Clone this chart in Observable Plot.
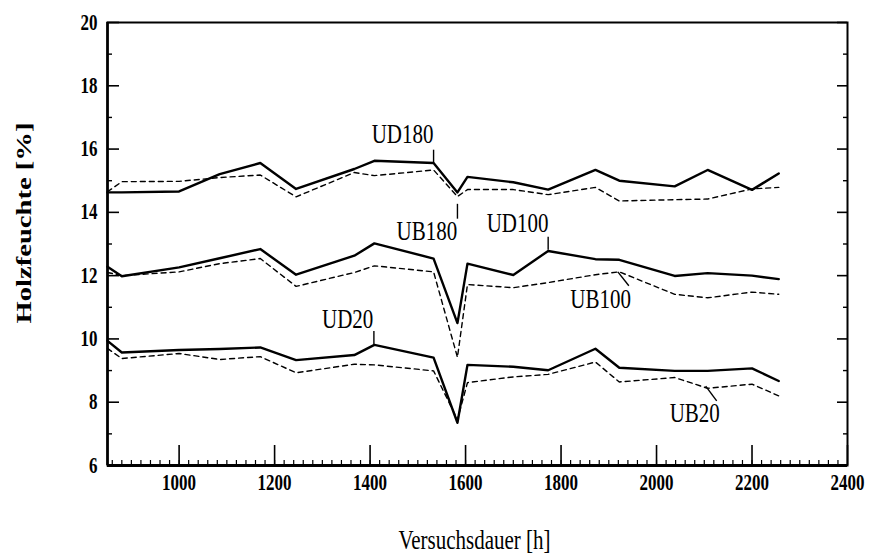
<!DOCTYPE html>
<html><head><meta charset="utf-8">
<script src="https://cdn.jsdelivr.net/npm/d3@7"></script>
<script src="https://cdn.jsdelivr.net/npm/@observablehq/plot@0.6"></script>
<style>html,body{margin:0;padding:0;background:#fff}#chart{position:absolute;left:0;top:0}</style>
</head><body><div id="chart"></div>
<script>
// Measurement times [h]
const hours = [850, 880, 1000, 1085, 1170, 1245, 1367, 1409, 1533, 1583, 1604, 1700, 1773, 1872, 1922, 2038, 2107, 2200, 2256];
// Wood moisture [%]
const UD180 = [14.63, 14.63, 14.66, 15.21, 15.56, 14.74, 15.37, 15.63, 15.56, 14.63, 15.12, 14.95, 14.72, 15.34, 15.00, 14.82, 15.34, 14.71, 15.23];
const UB180 = [14.65, 14.97, 14.98, 15.10, 15.18, 14.49, 15.26, 15.16, 15.34, 14.50, 14.72, 14.72, 14.56, 14.79, 14.36, 14.40, 14.42, 14.74, 14.79];
const UD100 = [12.28, 11.98, 12.26, 12.55, 12.84, 12.03, 12.63, 13.02, 12.54, 10.50, 12.38, 12.02, 12.78, 12.52, 12.50, 11.99, 12.08, 12.00, 11.89];
const UB100 = [12.10, 12.00, 12.12, 12.38, 12.54, 11.66, 12.10, 12.31, 12.12, 9.42, 11.72, 11.62, 11.78, 12.03, 12.12, 11.41, 11.30, 11.48, 11.41];
const UD20  = [9.94, 9.57, 9.65, 9.68, 9.73, 9.33, 9.49, 9.81, 9.41, 7.35, 9.18, 9.12, 9.01, 9.69, 9.09, 8.99, 8.99, 9.07, 8.67];
const UB20  = [9.70, 9.38, 9.54, 9.35, 9.44, 8.93, 9.20, 9.18, 8.99, 7.45, 8.62, 8.80, 8.88, 9.27, 8.64, 8.78, 8.44, 8.57, 8.20];

const solidNames = ["UD180", "UD100", "UD20"];
const dashedNames = ["UB180", "UB100", "UB20"];

// Axis ticks
const xTickValues = [1000, 1200, 1400, 1600, 1800, 2000, 2200, 2400];
const xTickLabels = ["1000", "1200", "1400", "1600", "1800", "2000", "2200", "2400"];
const yTickValues = [6, 8, 10, 12, 14, 16, 18, 20];
const yTickLabels = ["6", "8", "10", "12", "14", "16", "18", "20"];
const yMinorValues = [7, 9, 11, 13, 15, 17, 19];
const xMinorValues = d3.range(860, 2400, 20);

// Annotations
const annoNames = ["UD180", "UB180", "UD100", "UB100", "UD20", "UB20"];
const annoX = [1468, 1519, 1709, 1883, 1353, 2080];
const annoY = [16.46, 13.42, 13.66, 11.27, 10.62, 7.66];
const leadX1 = [1533, 1583, 1773, 1919, 1408, 2103];
const leadY1 = [15.98, 14.27, 13.23, 12.12, 10.25, 8.51];
const leadX2 = [1533, 1583, 1773, 1942, 1408, 2126];
const leadY2 = [15.57, 13.80, 12.82, 11.68, 9.84, 8.04];

const seriesValues = {UD180, UB180, UD100, UB100, UD20, UB20};
const rows = names => names.flatMap(n => hours.map((h, i) => ({name: n, h, v: seriesValues[n][i]})));
const annos = annoNames.map((n, i) => ({n, x: annoX[i], y: annoY[i], x1: leadX1[i], y1: leadY1[i], x2: leadX2[i], y2: leadY2[i]}));

const W = 869, H = 557, mL = 107, mR = 22, mT = 22, mB = 92;
const pw = W - mL - mR, ph = H - mT - mB;

const chart = Plot.plot({
  width: W, height: H,
  marginLeft: mL, marginRight: mR, marginTop: mT, marginBottom: mB,
  style: {fontFamily: "Liberation Serif", background: "#fff", color: "#000"},
  x: {domain: [850, 2400], label: null},
  y: {domain: [6, 20], label: null},
  marks: [
    Plot.axisX({ticks: xTickValues, tickFormat: d => xTickLabels[xTickValues.indexOf(d)], tickSize: 0, tickPadding: 11, fontSize: 17, fontWeight: "bold", label: null}),
    Plot.axisY({ticks: yTickValues, tickFormat: d => yTickLabels[yTickValues.indexOf(d)], tickSize: 0, tickPadding: 10, fontSize: 17, fontWeight: "bold", label: null}),
    Plot.ruleY(yTickValues, {insetRight: pw - 12, strokeWidth: 1.6}),
    Plot.ruleY(yMinorValues, {insetRight: pw - 5, strokeWidth: 1.4}),
    Plot.ruleY(yTickValues, {insetLeft: pw - 10, strokeWidth: 1.6}),
    Plot.ruleY(yMinorValues, {insetLeft: pw - 4, strokeWidth: 1.4}),
    Plot.ruleX(xTickValues, {insetTop: ph - 20, strokeWidth: 1.6}),
    Plot.ruleX(xMinorValues, {insetTop: ph - 5, strokeWidth: 1.2}),
    Plot.frame({stroke: "#000", strokeWidth: 2}),
    Plot.ruleY([6], {strokeWidth: 3}),
    Plot.ruleX([850], {strokeWidth: 2.6}),
    Plot.line(rows(dashedNames), {x: "h", y: "v", z: "name", stroke: "#000", strokeWidth: 1.4, strokeDasharray: "5,4"}),
    Plot.line(rows(solidNames), {x: "h", y: "v", z: "name", stroke: "#000", strokeWidth: 2.4}),
    Plot.link(annos, {x1: "x1", y1: "y1", x2: "x2", y2: "y2", stroke: "#000", strokeWidth: 1.4}),
    Plot.text(annos, {x: "x", y: "y", text: "n", fontSize: 21, textAnchor: "middle", lineAnchor: "middle", fill: "#000"}),
    Plot.text(["Holzfeuchte [%]"], {frameAnchor: "left", dx: -84, dy: -21, rotate: -90, fontSize: 22, fontWeight: "bold", lineAnchor: "middle", textAnchor: "middle", fill: "#000"}),
    Plot.text(["Versuchsdauer [h]"], {frameAnchor: "bottom", dx: -3, dy: 75, fontSize: 21, lineAnchor: "middle", textAnchor: "middle", fill: "#000"})
  ]
});
document.getElementById("chart").appendChild(chart);

// The scanned original is stretched vertically: stretch each text about its centre.
chart.querySelectorAll("text").forEach(t => {
  const g = document.createElementNS("http://www.w3.org/2000/svg", "g");
  t.parentNode.insertBefore(g, t);
  g.appendChild(t);
  const b = g.getBBox();
  const cy = b.y + b.height / 2;
  g.setAttribute("transform", `translate(0,${cy}) scale(1,1.3) translate(0,${-cy})`);
});
</script>
</body></html>
